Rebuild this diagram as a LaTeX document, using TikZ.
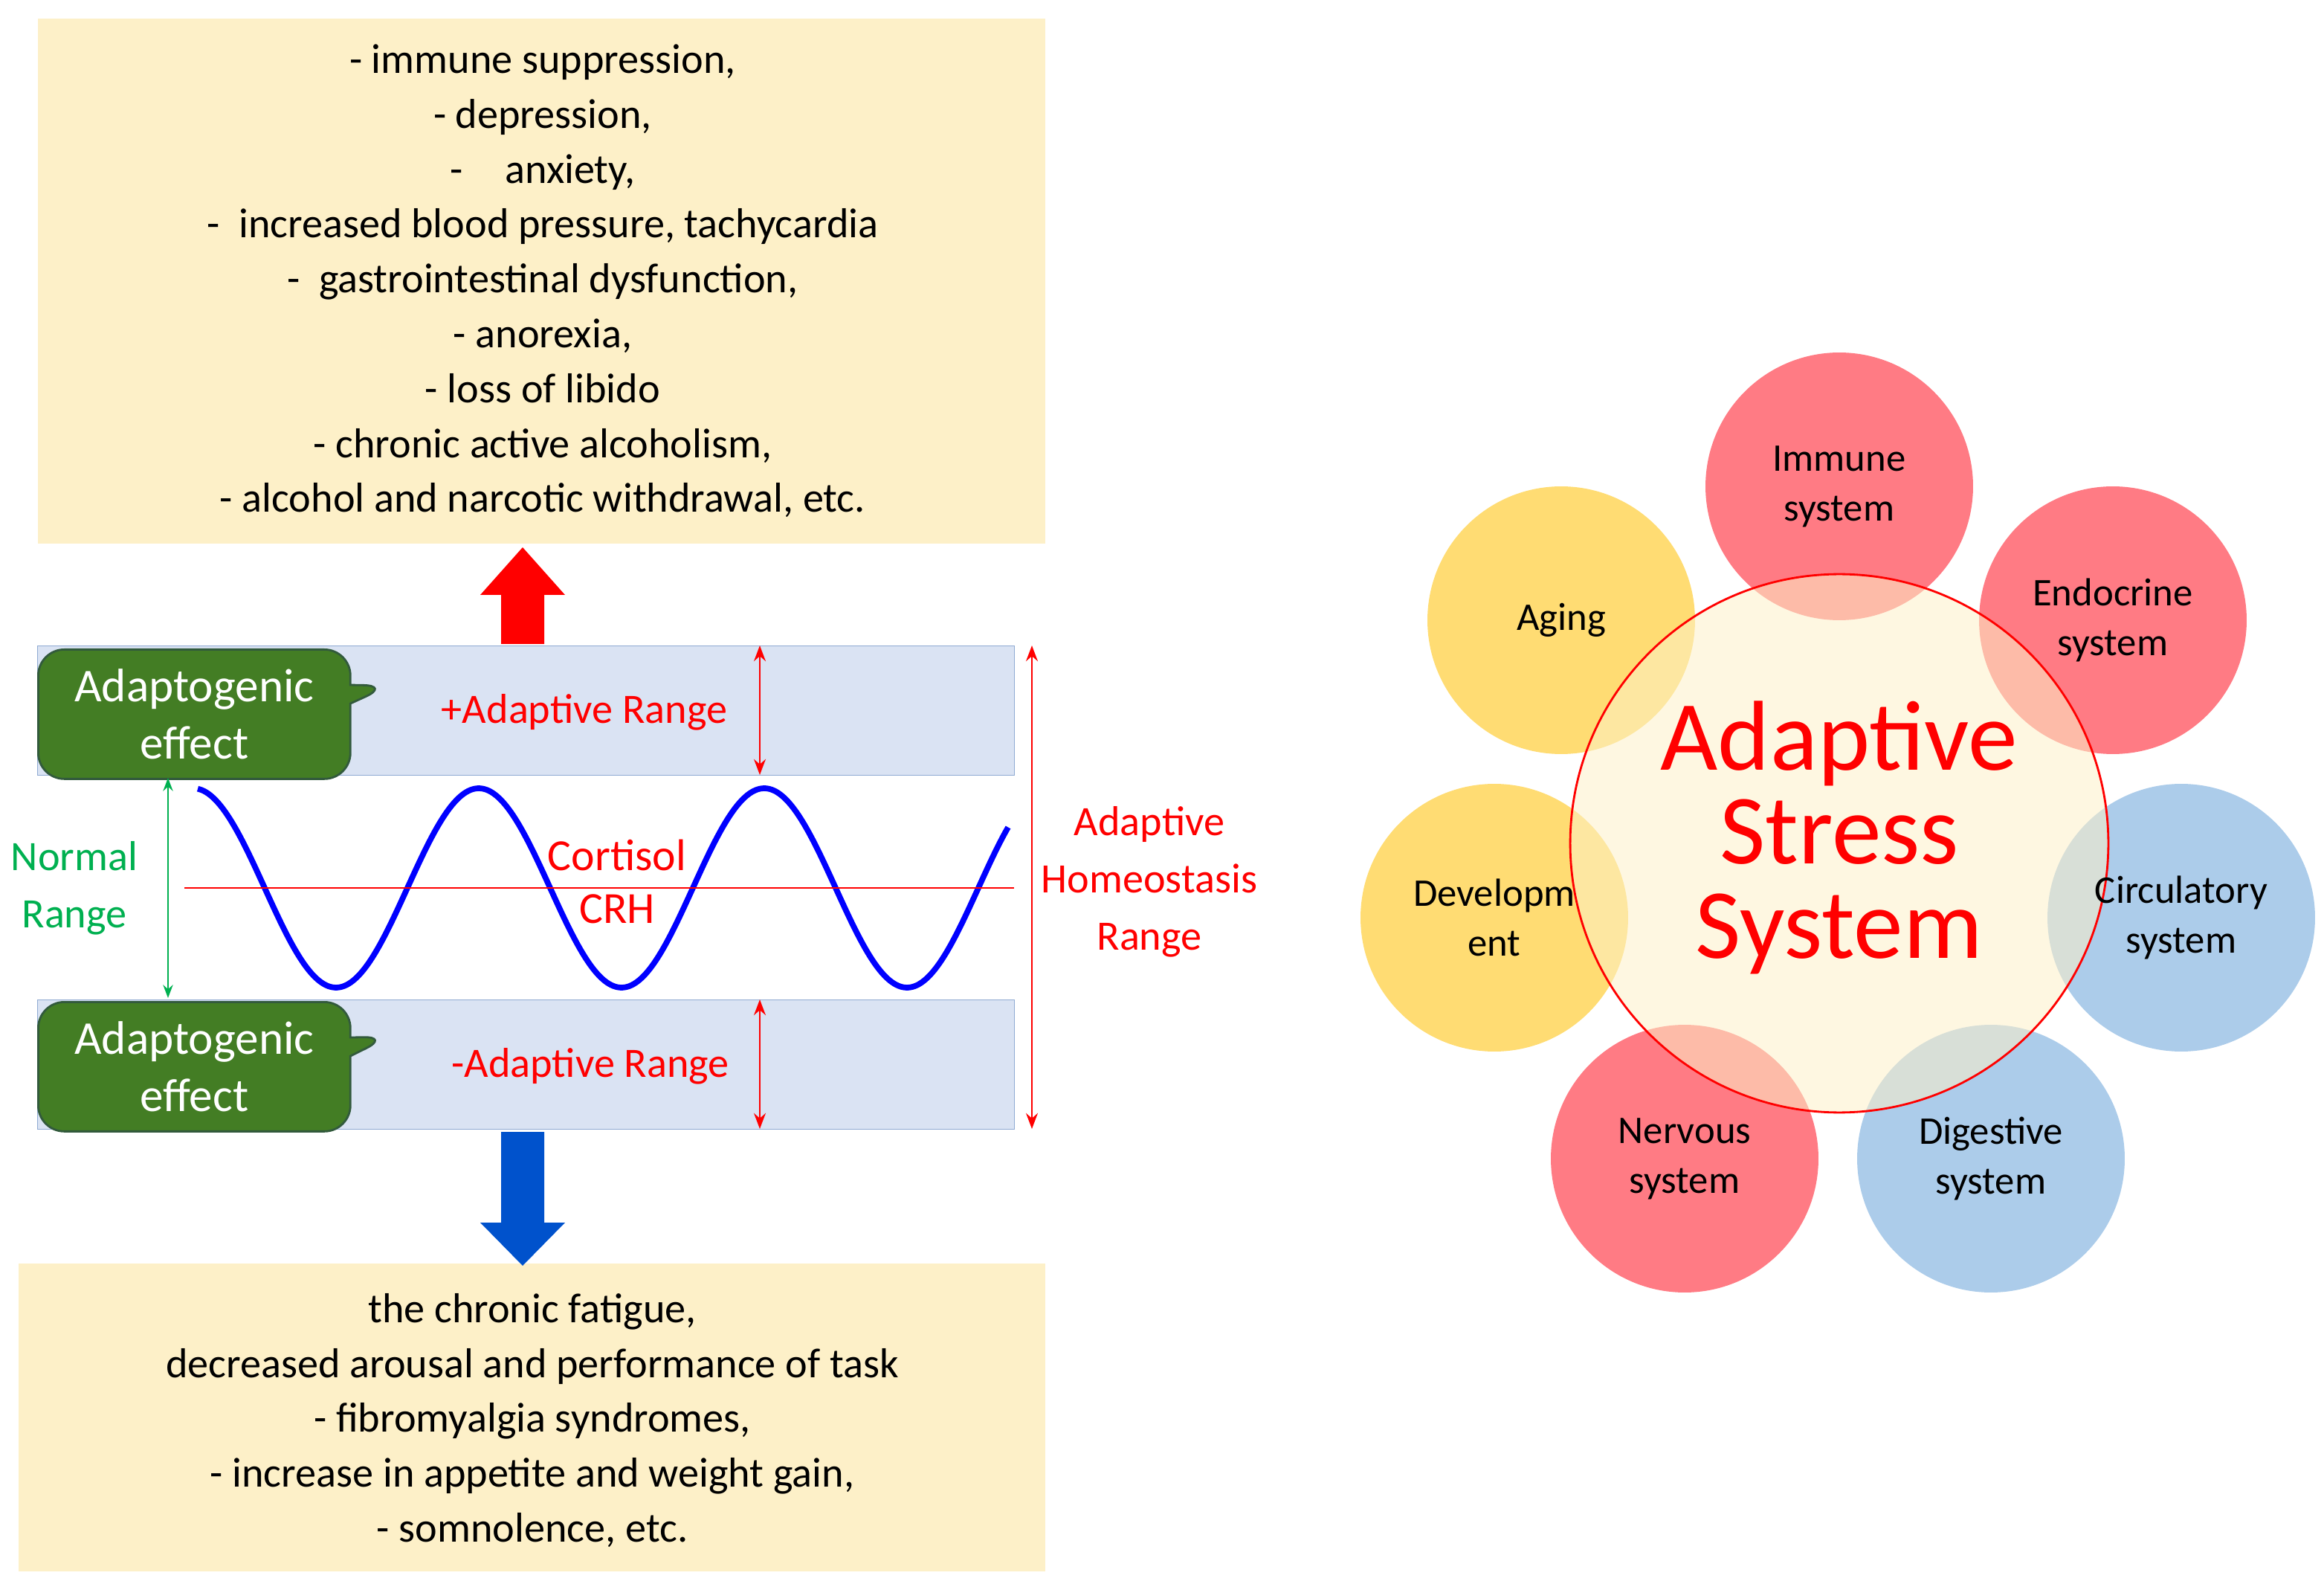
\documentclass[tikz,border=0pt]{standalone}
\usepackage{fontspec}
\setmainfont{Carlito}
\usetikzlibrary{arrows.meta,shapes.callouts}
\definecolor{cream}{RGB}{253,240,200}
\definecolor{band}{RGB}{218,227,243}
\definecolor{bandb}{RGB}{143,170,210}
\definecolor{gfill}{RGB}{67,125,36}
\definecolor{gline}{RGB}{50,90,60}
\definecolor{rcirc}{RGB}{255,100,110}
\definecolor{bcirc}{RGB}{157,195,230}
\definecolor{ycirc}{RGB}{255,214,90}
\definecolor{grn}{RGB}{0,176,80}
\begin{document}
\begin{tikzpicture}[x=0.02cm,y=-0.02cm,
  txt/.style={align=center,font=\fontsize{16}{21}\selectfont},
  callout/.style={rectangle callout,rounded corners=10pt,fill=gfill,draw=gline,thick,text=white,align=center,font=\fontsize{18}{22}\selectfont,minimum width=4.2cm,minimum height=1.74cm,inner sep=2pt},
  bandst/.style={fill=band,draw=bandb},
  dar/.style={red,thick,{Stealth[length=6pt]}-{Stealth[length=6pt]}},
  sc/.style={circle,minimum size=3.6cm,inner sep=0pt,fill opacity=0.85},
  lab/.style={font=\fontsize{15}{19}\selectfont,align=center}]
\useasboundingbox (0,0) rectangle (1563,1067);
% top box
\node[fill=cream,minimum width=13.56cm,minimum height=7.06cm,anchor=north west,inner sep=0] (top) at (25,12) {};
\node[txt] (toptext) at (365,189) {- immune suppression,\\- depression,\\-\quad anxiety,\\-\ \ increased blood pressure, tachycardia\\-\ \ gastrointestinal dysfunction,\\- anorexia,\\- loss of libido\\- chronic active alcoholism,\\- alcohol and narcotic withdrawal, etc.};
% bottom box
\node[fill=cream,minimum width=13.82cm,minimum height=4.14cm,anchor=north west,inner sep=0] (bot) at (12,849) {};
\node[txt] (bottext) at (358,955) {the chronic fatigue,\\decreased arousal and performance of task\\- fibromyalgia syndromes,\\- increase in appetite and weight gain,\\- somnolence, etc.};
% arrows
\fill[red] (337,433) -- (337,400) -- (323,400) -- (351.5,368) -- (380,400) -- (366,400) -- (366,433) -- cycle;
\fill[blue!60!cyan!80!black] (337,761) -- (337,822) -- (323,822) -- (351.5,851) -- (380,822) -- (366,822) -- (366,761) -- cycle;
% bands
\node[bandst,minimum width=13.14cm,minimum height=1.74cm,anchor=north west,inner sep=0] (ub) at (25,434) {};
\node[bandst,minimum width=13.14cm,minimum height=1.74cm,anchor=north west,inner sep=0] (lb) at (25,672) {};
\node[callout,callout absolute pointer={(262,461)},anchor=north west] (c1) at (25,436) {Adaptogenic\\effect};
\node[callout,callout absolute pointer={(262,697)},anchor=north west] (c2) at (25,673) {Adaptogenic\\effect};
\node[text=red,font=\fontsize{16}{20}\selectfont] (pr) at (393,479) {+Adaptive Range};
\node[text=red,font=\fontsize{16}{20}\selectfont] (mr) at (397,717) {-Adaptive Range};
\coordinate (a1) at (511,434); \coordinate (a2) at (511,521);
\coordinate (a3) at (511,672); \coordinate (a4) at (511,759);
\draw[dar] (a1) -- (a2);
\draw[dar] (a3) -- (a4);
\coordinate (h1) at (694,434); \coordinate (h2) at (694,759);
\draw[dar] (h1) -- (h2);
\coordinate (n1) at (113,523); \coordinate (n2) at (113,671);
\draw[grn,thick,{Stealth[length=5pt]}-{Stealth[length=5pt]}] (n1) -- (n2);
\node[text=grn,align=center,font=\fontsize{16}{22}\selectfont] (nr) at (50,597) {Normal\\Range};
\node[text=red,align=center,font=\fontsize{16}{22}\selectfont] (ah) at (773,593) {Adaptive\\Homeostasis\\Range};
% wave
\draw[blue,line width=2.2pt,domain=133:678,samples=200,smooth] plot (\x,{597-67*cos(1.875*(\x-322))});
\draw[red,thick] (124,597) -- (682,597);
\node[text=red,font=\fontsize{17}{20}\selectfont] (cort) at (415,575) {Cortisol};
\node[text=red,font=\fontsize{17}{20}\selectfont] (crh) at (415,611) {CRH};
% right
\node[sc,fill=rcirc] (imm) at (1237,327) {};
\node[sc,fill=rcirc] (endo) at (1421,417) {};
\node[sc,fill=bcirc] (circ) at (1467,617) {};
\node[sc,fill=bcirc] (dig) at (1339,779) {};
\node[sc,fill=rcirc] (nerv) at (1133,779) {};
\node[sc,fill=ycirc] (dev) at (1005,617) {};
\node[sc,fill=ycirc] (aging) at (1050,417) {};
\node[circle,minimum size=7.24cm,fill=cream,fill opacity=0.55,draw=red,thick,draw opacity=1,inner sep=0] (ass) at (1237,567) {};
\node[text=red,align=center,font=\fontsize{38}{36}\selectfont] (asst) at (1237,563) {Adaptive\\Stress\\System};
\node[lab] at (imm) {Immune\\system};
\node[lab] at (endo) {Endocrine\\system};
\node[lab] at (circ) {Circulatory\\system};
\node[lab] at (dig) {Digestive\\system};
\node[lab] at (nerv) {Nervous\\system};
\node[lab] at (dev) {Developm\\ent};
\node[lab] at (aging) {Aging};
\end{tikzpicture}
\end{document}
